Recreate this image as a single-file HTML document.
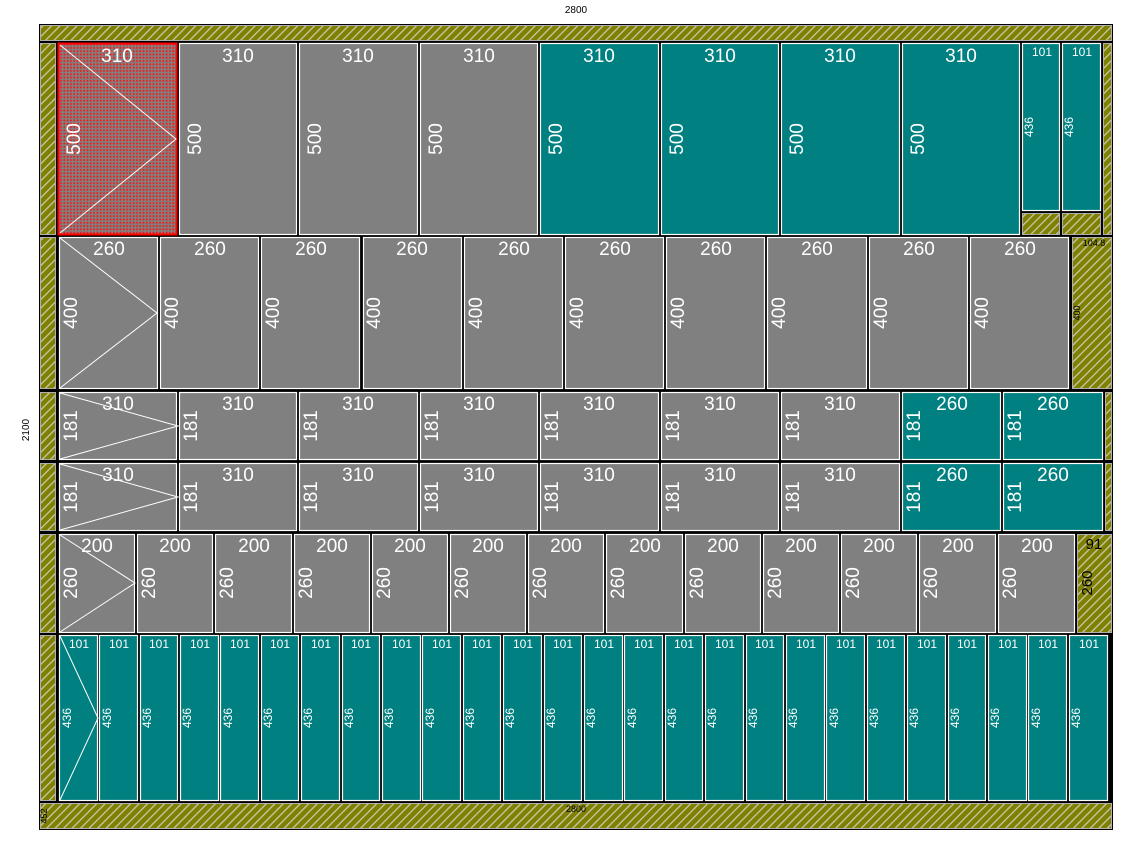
<!DOCTYPE html>
<html><head><meta charset="utf-8"><style>
html,body{margin:0;padding:0;background:#fff;}
svg{display:block;}
.g{fill:#808080;stroke:#fff;stroke-width:1.2}
.t{fill:#008080;stroke:#fff;stroke-width:1.2}
.h{fill:url(#hat);stroke:#b0b0b0;stroke-width:1}
text{font-family:"Liberation Sans",sans-serif;fill:#fff;text-anchor:middle}
.L{font-size:19px}
.S{font-size:12px}
.k{fill:#000;font-size:10px}
.d{stroke:#fff;stroke-width:1;fill:none}
</style></head><body>
<svg width="1125" height="843" viewBox="0 0 1125 843" xmlns="http://www.w3.org/2000/svg">
<defs>
<pattern id="hat" width="6" height="6" patternUnits="userSpaceOnUse" patternTransform="rotate(45)">
<rect width="6" height="6" fill="#808000"/><rect x="0" width="1.3" height="6" fill="#c8c8b0"/>
</pattern>
<pattern id="dots" width="3.3" height="3.3" patternUnits="userSpaceOnUse">
<rect width="3.3" height="3.3" fill="#808080"/><rect x="0.8" y="0.8" width="1.7" height="1.7" fill="#ff1010"/>
</pattern>
</defs>
<text class="k" x="576" y="13">2800</text>
<text class="k" transform="translate(29,430) rotate(-90)">2100</text>
<rect x="39" y="24" width="1074" height="806" fill="#000"/>
<rect class="h" x="40.5" y="25.5" width="1071" height="15"/>
<rect class="h" x="40.5" y="803.5" width="1071" height="25"/>
<text class="k" style="font-size:9px" x="576" y="812">2800</text>
<text class="k" style="font-size:9px" transform="translate(47,816) rotate(-90)">452</text>
<rect class="h" x="40.5" y="43.5" width="15" height="191"/>
<rect class="h" x="40.5" y="237.5" width="15" height="151"/>
<rect class="h" x="40.5" y="392.5" width="15" height="67"/>
<rect class="h" x="40.5" y="463.5" width="15" height="67"/>
<rect class="h" x="40.5" y="534.5" width="15" height="98"/>
<rect class="h" x="40.5" y="635.5" width="15" height="165"/>

<!-- Row 1 -->
<rect x="58.5" y="43.5" width="118" height="191" fill="url(#dots)" stroke="#ff0000" stroke-width="2"/>
<path class="d" d="M60 45 L176 139 L60 233"/>
<text class="L" x="117" y="62">310</text><text class="L" transform="translate(80,139) rotate(-90)">500</text>
<rect class="g" x="179.5" y="43.5" width="117" height="191"/><text class="L" x="238" y="62">310</text><text class="L" transform="translate(201,139) rotate(-90)">500</text>
<rect class="g" x="299.5" y="43.5" width="118" height="191"/><text class="L" x="358" y="62">310</text><text class="L" transform="translate(321,139) rotate(-90)">500</text>
<rect class="g" x="420.5" y="43.5" width="117" height="191"/><text class="L" x="479" y="62">310</text><text class="L" transform="translate(442,139) rotate(-90)">500</text>
<rect class="t" x="540.5" y="43.5" width="118" height="191"/><text class="L" x="599" y="62">310</text><text class="L" transform="translate(562,139) rotate(-90)">500</text>
<rect class="t" x="661.5" y="43.5" width="117" height="191"/><text class="L" x="720" y="62">310</text><text class="L" transform="translate(683,139) rotate(-90)">500</text>
<rect class="t" x="781.5" y="43.5" width="118" height="191"/><text class="L" x="840" y="62">310</text><text class="L" transform="translate(803,139) rotate(-90)">500</text>
<rect class="t" x="902.5" y="43.5" width="117" height="191"/><text class="L" x="961" y="62">310</text><text class="L" transform="translate(924,139) rotate(-90)">500</text>
<rect class="t" x="1022.5" y="43.5" width="37" height="167"/><text class="S" x="1042" y="56">101</text><text class="S" transform="translate(1033,127) rotate(-90)">436</text>
<rect class="t" x="1062.5" y="43.5" width="38" height="167"/><text class="S" x="1082" y="56">101</text><text class="S" transform="translate(1073,127) rotate(-90)">436</text>
<rect class="h" x="1022.5" y="213.5" width="37" height="21"/>
<rect class="h" x="1062.5" y="213.5" width="38" height="21"/>
<rect class="h" x="1103.5" y="43.5" width="8" height="191"/>

<!-- Row 2 -->
<rect class="g" x="59.5" y="237.5" width="98" height="151"/><path class="d" d="M60 238 L157 313 L60 388"/>
<text class="L" x="109" y="255">260</text><text class="L" transform="translate(77,313) rotate(-90)">400</text>
<rect class="g" x="160.5" y="237.5" width="98" height="151"/><text class="L" x="210" y="255">260</text><text class="L" transform="translate(178,313) rotate(-90)">400</text>
<rect class="g" x="261.5" y="237.5" width="98" height="151"/><text class="L" x="311" y="255">260</text><text class="L" transform="translate(279,313) rotate(-90)">400</text>
<rect class="g" x="363.5" y="237.5" width="98" height="151"/><text class="L" x="412" y="255">260</text><text class="L" transform="translate(380,313) rotate(-90)">400</text>
<rect class="g" x="464.5" y="237.5" width="98" height="151"/><text class="L" x="514" y="255">260</text><text class="L" transform="translate(482,313) rotate(-90)">400</text>
<rect class="g" x="565.5" y="237.5" width="98" height="151"/><text class="L" x="615" y="255">260</text><text class="L" transform="translate(583,313) rotate(-90)">400</text>
<rect class="g" x="666.5" y="237.5" width="98" height="151"/><text class="L" x="716" y="255">260</text><text class="L" transform="translate(684,313) rotate(-90)">400</text>
<rect class="g" x="767.5" y="237.5" width="99" height="151"/><text class="L" x="817" y="255">260</text><text class="L" transform="translate(785,313) rotate(-90)">400</text>
<rect class="g" x="869.5" y="237.5" width="98" height="151"/><text class="L" x="919" y="255">260</text><text class="L" transform="translate(887,313) rotate(-90)">400</text>
<rect class="g" x="970.5" y="237.5" width="98" height="151"/><text class="L" x="1020" y="255">260</text><text class="L" transform="translate(988,313) rotate(-90)">400</text>
<rect class="h" x="1072.5" y="237.5" width="39" height="151"/>
<text class="k" style="font-size:9px" x="1094" y="246">104.8</text>
<text class="k" style="font-size:9px" transform="translate(1080,313) rotate(-90)">400</text>

<!-- Row 3 -->
<rect class="g" x="59.5" y="392.5" width="117" height="67"/><path class="d" d="M60 393 L178 426 L60 459"/>
<text class="L" x="118" y="410">310</text><text class="L" transform="translate(77,426) rotate(-90)">181</text>
<rect class="g" x="179.5" y="392.5" width="117" height="67"/><text class="L" x="238" y="410">310</text><text class="L" transform="translate(197,426) rotate(-90)">181</text>
<rect class="g" x="299.5" y="392.5" width="118" height="67"/><text class="L" x="358" y="410">310</text><text class="L" transform="translate(317,426) rotate(-90)">181</text>
<rect class="g" x="420.5" y="392.5" width="117" height="67"/><text class="L" x="479" y="410">310</text><text class="L" transform="translate(438,426) rotate(-90)">181</text>
<rect class="g" x="540.5" y="392.5" width="118" height="67"/><text class="L" x="599" y="410">310</text><text class="L" transform="translate(558,426) rotate(-90)">181</text>
<rect class="g" x="661.5" y="392.5" width="117" height="67"/><text class="L" x="720" y="410">310</text><text class="L" transform="translate(679,426) rotate(-90)">181</text>
<rect class="g" x="781.5" y="392.5" width="118" height="67"/><text class="L" x="840" y="410">310</text><text class="L" transform="translate(799,426) rotate(-90)">181</text>
<rect class="t" x="902.5" y="392.5" width="98" height="67"/><text class="L" x="952" y="410">260</text><text class="L" transform="translate(920,426) rotate(-90)">181</text>
<rect class="t" x="1003.5" y="392.5" width="99" height="67"/><text class="L" x="1053" y="410">260</text><text class="L" transform="translate(1021,426) rotate(-90)">181</text>
<rect class="h" x="1105.5" y="392.5" width="6" height="67"/>

<!-- Row 4 -->
<rect class="g" x="59.5" y="463.5" width="117" height="67"/><path class="d" d="M60 464 L178 497 L60 530"/>
<text class="L" x="118" y="481">310</text><text class="L" transform="translate(77,497) rotate(-90)">181</text>
<rect class="g" x="179.5" y="463.5" width="117" height="67"/><text class="L" x="238" y="481">310</text><text class="L" transform="translate(197,497) rotate(-90)">181</text>
<rect class="g" x="299.5" y="463.5" width="118" height="67"/><text class="L" x="358" y="481">310</text><text class="L" transform="translate(317,497) rotate(-90)">181</text>
<rect class="g" x="420.5" y="463.5" width="117" height="67"/><text class="L" x="479" y="481">310</text><text class="L" transform="translate(438,497) rotate(-90)">181</text>
<rect class="g" x="540.5" y="463.5" width="118" height="67"/><text class="L" x="599" y="481">310</text><text class="L" transform="translate(558,497) rotate(-90)">181</text>
<rect class="g" x="661.5" y="463.5" width="117" height="67"/><text class="L" x="720" y="481">310</text><text class="L" transform="translate(679,497) rotate(-90)">181</text>
<rect class="g" x="781.5" y="463.5" width="118" height="67"/><text class="L" x="840" y="481">310</text><text class="L" transform="translate(799,497) rotate(-90)">181</text>
<rect class="t" x="902.5" y="463.5" width="98" height="67"/><text class="L" x="952" y="481">260</text><text class="L" transform="translate(920,497) rotate(-90)">181</text>
<rect class="t" x="1003.5" y="463.5" width="99" height="67"/><text class="L" x="1053" y="481">260</text><text class="L" transform="translate(1021,497) rotate(-90)">181</text>
<rect class="h" x="1105.5" y="463.5" width="6" height="67"/>

<!-- Row 5 -->
<rect class="g" x="59.5" y="534.5" width="75" height="98"/><path class="d" d="M60 535 L135 583 L60 632"/>
<text class="L" x="97" y="552">200</text><text class="L" transform="translate(77,583) rotate(-90)">260</text>
<rect class="g" x="137.5" y="534.5" width="75" height="98"/><text class="L" x="175" y="552">200</text><text class="L" transform="translate(155,583) rotate(-90)">260</text>
<rect class="g" x="215.5" y="534.5" width="76" height="98"/><text class="L" x="254" y="552">200</text><text class="L" transform="translate(233,583) rotate(-90)">260</text>
<rect class="g" x="294.5" y="534.5" width="75" height="98"/><text class="L" x="332" y="552">200</text><text class="L" transform="translate(312,583) rotate(-90)">260</text>
<rect class="g" x="372.5" y="534.5" width="75" height="98"/><text class="L" x="410" y="552">200</text><text class="L" transform="translate(390,583) rotate(-90)">260</text>
<rect class="g" x="450.5" y="534.5" width="75" height="98"/><text class="L" x="488" y="552">200</text><text class="L" transform="translate(468,583) rotate(-90)">260</text>
<rect class="g" x="528.5" y="534.5" width="75" height="98"/><text class="L" x="566" y="552">200</text><text class="L" transform="translate(546,583) rotate(-90)">260</text>
<rect class="g" x="606.5" y="534.5" width="76" height="98"/><text class="L" x="645" y="552">200</text><text class="L" transform="translate(624,583) rotate(-90)">260</text>
<rect class="g" x="685.5" y="534.5" width="75" height="98"/><text class="L" x="723" y="552">200</text><text class="L" transform="translate(703,583) rotate(-90)">260</text>
<rect class="g" x="763.5" y="534.5" width="75" height="98"/><text class="L" x="801" y="552">200</text><text class="L" transform="translate(781,583) rotate(-90)">260</text>
<rect class="g" x="841.5" y="534.5" width="75" height="98"/><text class="L" x="879" y="552">200</text><text class="L" transform="translate(859,583) rotate(-90)">260</text>
<rect class="g" x="919.5" y="534.5" width="76" height="98"/><text class="L" x="958" y="552">200</text><text class="L" transform="translate(937,583) rotate(-90)">260</text>
<rect class="g" x="998.5" y="534.5" width="76" height="98"/><text class="L" x="1037" y="552">200</text><text class="L" transform="translate(1016,583) rotate(-90)">260</text>
<rect class="h" x="1077.5" y="534.5" width="34" height="98"/>
<text class="k" style="font-size:15px" x="1094" y="549">91</text>
<text class="k" style="font-size:15px" transform="translate(1092,583) rotate(-90)">260</text>

<!-- Row 6 -->
<g>
<rect class="t" x="59.5" y="635.5" width="38" height="165"/><text class="S" x="79" y="648">101</text><text class="S" transform="translate(71,718) rotate(-90)">436</text>
<path class="d" d="M60 636 L98 718 L60 800"/>
<rect class="t" x="99.5" y="635.5" width="38" height="165"/><text class="S" x="119" y="648">101</text><text class="S" transform="translate(111,718) rotate(-90)">436</text>
<rect class="t" x="140.5" y="635.5" width="37" height="165"/><text class="S" x="159" y="648">101</text><text class="S" transform="translate(151,718) rotate(-90)">436</text>
<rect class="t" x="180.5" y="635.5" width="38" height="165"/><text class="S" x="200" y="648">101</text><text class="S" transform="translate(191,718) rotate(-90)">436</text>
<rect class="t" x="220.5" y="635.5" width="38" height="165"/><text class="S" x="240" y="648">101</text><text class="S" transform="translate(232,718) rotate(-90)">436</text>
<rect class="t" x="261.5" y="635.5" width="37" height="165"/><text class="S" x="280" y="648">101</text><text class="S" transform="translate(272,718) rotate(-90)">436</text>
<rect class="t" x="301.5" y="635.5" width="38" height="165"/><text class="S" x="321" y="648">101</text><text class="S" transform="translate(312,718) rotate(-90)">436</text>
<rect class="t" x="342.5" y="635.5" width="37" height="165"/><text class="S" x="361" y="648">101</text><text class="S" transform="translate(353,718) rotate(-90)">436</text>
<rect class="t" x="382.5" y="635.5" width="38" height="165"/><text class="S" x="402" y="648">101</text><text class="S" transform="translate(393,718) rotate(-90)">436</text>
<rect class="t" x="422.5" y="635.5" width="38" height="165"/><text class="S" x="442" y="648">101</text><text class="S" transform="translate(434,718) rotate(-90)">436</text>
<rect class="t" x="463.5" y="635.5" width="37" height="165"/><text class="S" x="482" y="648">101</text><text class="S" transform="translate(474,718) rotate(-90)">436</text>
<rect class="t" x="503.5" y="635.5" width="38" height="165"/><text class="S" x="523" y="648">101</text><text class="S" transform="translate(514,718) rotate(-90)">436</text>
<rect class="t" x="544.5" y="635.5" width="37" height="165"/><text class="S" x="563" y="648">101</text><text class="S" transform="translate(555,718) rotate(-90)">436</text>
<rect class="t" x="584.5" y="635.5" width="38" height="165"/><text class="S" x="604" y="648">101</text><text class="S" transform="translate(595,718) rotate(-90)">436</text>
<rect class="t" x="624.5" y="635.5" width="38" height="165"/><text class="S" x="644" y="648">101</text><text class="S" transform="translate(636,718) rotate(-90)">436</text>
<rect class="t" x="665.5" y="635.5" width="37" height="165"/><text class="S" x="684" y="648">101</text><text class="S" transform="translate(676,718) rotate(-90)">436</text>
<rect class="t" x="705.5" y="635.5" width="38" height="165"/><text class="S" x="725" y="648">101</text><text class="S" transform="translate(716,718) rotate(-90)">436</text>
<rect class="t" x="746.5" y="635.5" width="37" height="165"/><text class="S" x="765" y="648">101</text><text class="S" transform="translate(757,718) rotate(-90)">436</text>
<rect class="t" x="786.5" y="635.5" width="38" height="165"/><text class="S" x="806" y="648">101</text><text class="S" transform="translate(797,718) rotate(-90)">436</text>
<rect class="t" x="826.5" y="635.5" width="38" height="165"/><text class="S" x="846" y="648">101</text><text class="S" transform="translate(838,718) rotate(-90)">436</text>
<rect class="t" x="867.5" y="635.5" width="37" height="165"/><text class="S" x="886" y="648">101</text><text class="S" transform="translate(878,718) rotate(-90)">436</text>
<rect class="t" x="907.5" y="635.5" width="38" height="165"/><text class="S" x="927" y="648">101</text><text class="S" transform="translate(918,718) rotate(-90)">436</text>
<rect class="t" x="948.5" y="635.5" width="37" height="165"/><text class="S" x="967" y="648">101</text><text class="S" transform="translate(959,718) rotate(-90)">436</text>
<rect class="t" x="988.5" y="635.5" width="38" height="165"/><text class="S" x="1008" y="648">101</text><text class="S" transform="translate(999,718) rotate(-90)">436</text>
<rect class="t" x="1028.5" y="635.5" width="38" height="165"/><text class="S" x="1048" y="648">101</text><text class="S" transform="translate(1040,718) rotate(-90)">436</text>
<rect class="t" x="1069.5" y="635.5" width="38" height="165"/><text class="S" x="1089" y="648">101</text><text class="S" transform="translate(1080,718) rotate(-90)">436</text>
</g>
</svg>
</body></html>
